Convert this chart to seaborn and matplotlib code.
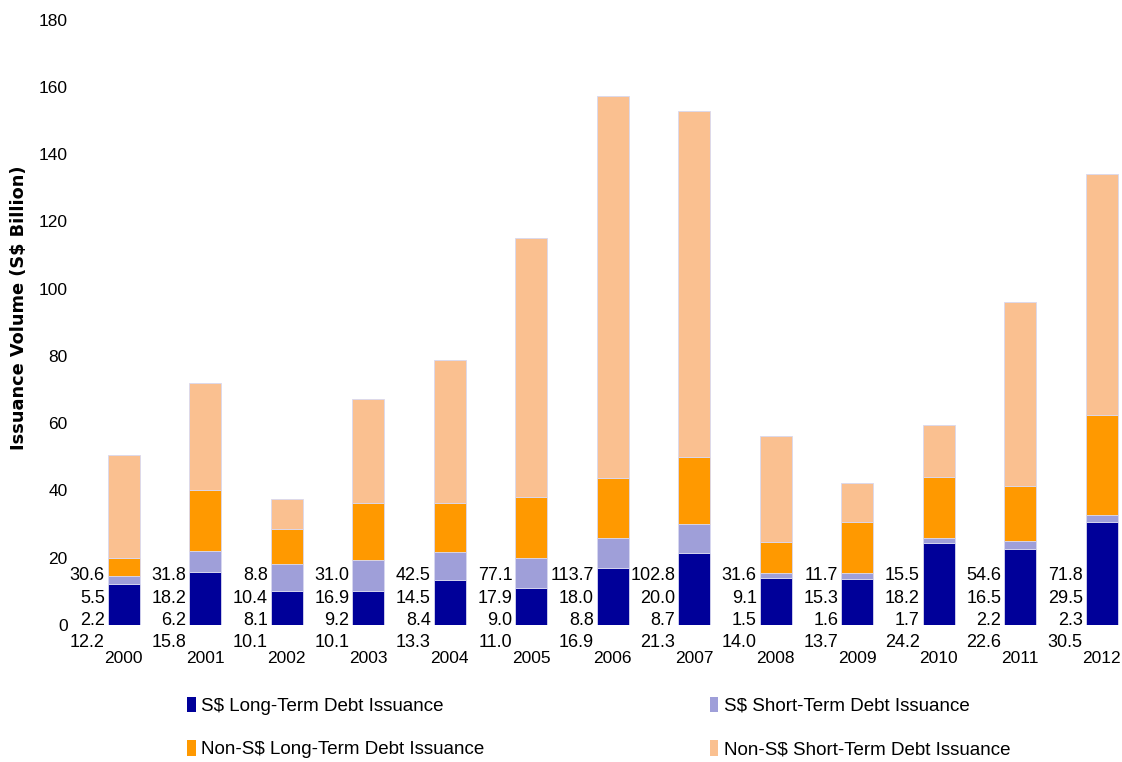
import numpy as np
import pandas as pd
import seaborn as sns
import matplotlib
matplotlib.use("Agg")
import matplotlib.pyplot as plt
from matplotlib.patches import Patch

# ---- data (S$ billion) ----
years = ["2000", "2001", "2002", "2003", "2004", "2005", "2006",
         "2007", "2008", "2009", "2010", "2011", "2012"]
sgd_long = [12.2, 15.8, 10.1, 10.1, 13.3, 11.0, 16.9, 21.3, 14.0, 13.7, 24.2, 22.6, 30.5]
sgd_short = [2.2, 6.2, 8.1, 9.2, 8.4, 9.0, 8.8, 8.7, 1.5, 1.6, 1.7, 2.2, 2.3]
nonsgd_long = [5.5, 18.2, 10.4, 16.9, 14.5, 17.9, 18.0, 20.0, 9.1, 15.3, 18.2, 16.5, 29.5]
nonsgd_short = [30.6, 31.8, 8.8, 31.0, 42.5, 77.1, 113.7, 102.8, 31.6, 11.7, 15.5, 54.6, 71.8]

series_names = ["S$ Long-Term Debt Issuance", "S$ Short-Term Debt Issuance",
                "Non-S$ Long-Term Debt Issuance", "Non-S$ Short-Term Debt Issuance"]
colors = ["#000099", "#9F9FD9", "#FF9900", "#FAC090"]

sns.set_style("white")
plt.rcParams['font.family'] = ['Liberation Sans', 'DejaVu Sans']
plt.rcParams['text.color'] = 'black'
plt.rcParams['xtick.color'] = 'black'
plt.rcParams['ytick.color'] = 'black'
plt.rcParams['axes.labelcolor'] = 'black'

fig = plt.figure(figsize=(11.22, 7.62), dpi=100)
ax = fig.add_axes([0.074, 0.18, 0.926, 0.794])

layers = [sgd_long, sgd_short, nonsgd_long, nonsgd_short]
bottom = np.zeros(len(years))
bar_w = 0.39
for vals, col in zip(layers, colors):
    sns.barplot(x=years, y=vals, bottom=bottom, color=col, width=bar_w,
                edgecolor="#D8D8F0", linewidth=0.6, ax=ax, saturation=1)
    bottom = bottom + np.array(vals)

# value labels stacked to the left of each bar
offsets = [-18, 4, 26, 49]  # pixels relative to baseline
for i in range(len(years)):
    for vals, dy in zip(layers, offsets):
        ax.annotate(f"{vals[i]:.1f}", xy=(i - bar_w / 2, 0),
                    xytext=(-3, dy), textcoords="offset pixels",
                    ha="right", va="center", fontsize=13, color="black")

ax.set_ylim(0, 180)
ax.set_xlim(-0.5, 12.25)
ax.set_yticks(range(0, 181, 20))
sns.despine(ax=ax, left=True, bottom=True)
ax.tick_params(axis="both", length=0, labelsize=12.5)
ax.tick_params(axis="x", pad=19)
ax.tick_params(axis="y", pad=11)
ax.set_ylabel("Issuance Volume (S$ Billion)", fontsize=12.8, fontweight="bold",
              family=['DejaVu Sans'])
ax.yaxis.set_label_coords(-0.053, 0.524)
ax.grid(False)

handles = [Patch(facecolor=c, edgecolor="none") for c in colors]
order = [0, 2, 1, 3]
fig.legend([handles[k] for k in order], [series_names[k] for k in order],
           loc="upper left", bbox_to_anchor=(0.152, 0.108), ncol=2,
           frameon=False, fontsize=13.5, handlelength=0.45, handleheight=0.9,
           handletextpad=0.3, columnspacing=12.0, labelspacing=1.35)

fig.savefig("out.png", dpi=100)
